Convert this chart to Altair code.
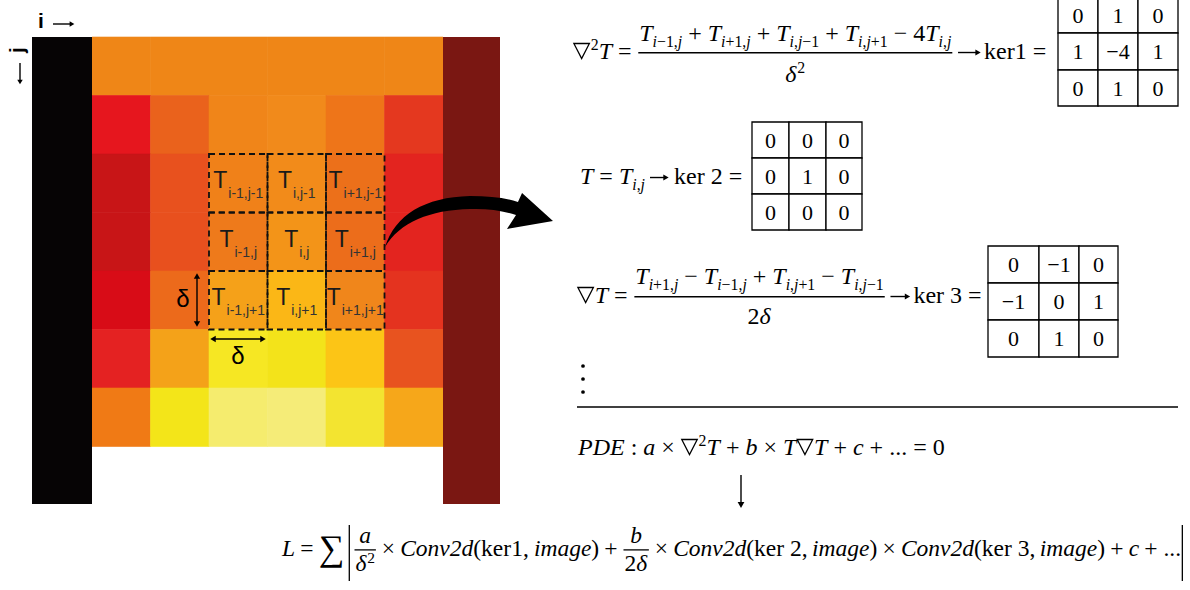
import altair as alt
import pandas as pd

W, H = 1190, 590

# ---------------- data ----------------
heat_colors = [
    ["#EF8617", "#EF8617", "#EF8617", "#EF8617", "#EF8617", "#EF8617"],
    ["#E6161E", "#EA621C", "#F08519", "#F18A1B", "#EE7519", "#E4381F"],
    ["#C81517", "#E8511E", "#F08119", "#F28B1A", "#EC701A", "#E3241F"],
    ["#C81517", "#E8501E", "#EE7A1B", "#F39418", "#EC6D1B", "#E3241F"],
    ["#D80C17", "#EC6A1B", "#F5A119", "#FBB716", "#F0861B", "#E4331F"],
    ["#E42222", "#F4A219", "#F6E723", "#F3E31A", "#FCC516", "#E8531F"],
    ["#F07A15", "#F3E519", "#F5EC6E", "#F5EC78", "#F3E430", "#F6A71A"],
]
wall_colors = ["#060405", "#7A1712"]
stencil_subs = [
    ["i-1,j-1", "i,j-1", "i+1,j-1"],
    ["i-1,j", "i,j", "i+1,j"],
    ["i-1,j+1", "i,j+1", "i+1,j+1"],
]
ker1 = [["0", "1", "0"], ["1", "−4", "1"], ["0", "1", "0"]]
ker2 = [["0", "0", "0"], ["0", "1", "0"], ["0", "0", "0"]]
ker3 = [["0", "−1", "0"], ["−1", "0", "1"], ["0", "1", "0"]]

# ---------------- layout constants ----------------
GX0, GY0, CELL = 92.0, 37.0, 58.5
SERIF = "Liberation Serif"
SANS = "Liberation Sans"

XS = alt.Scale(domain=[0, W], nice=False, zero=False)
YS = alt.Scale(domain=[0, H], nice=False, zero=False, reverse=True)


def X(f):
    return alt.X(f, type="quantitative", scale=XS, axis=None)


def Y(f):
    return alt.Y(f, type="quantitative", scale=YS, axis=None)


# ---------------- heat map ----------------
heat = pd.DataFrame([
    dict(x=GX0 + c * CELL, x2=GX0 + (c + 1) * CELL, y=GY0 + r * CELL, y2=GY0 + (r + 1) * CELL, c=col)
    for r, row in enumerate(heat_colors) for c, col in enumerate(row)
])
walls = pd.DataFrame([
    dict(x=32, x2=92, y=37, y2=504, c=wall_colors[0]),
    dict(x=443, x2=500, y=37, y2=504, c=wall_colors[1]),
])
boxes = pd.DataFrame([
    dict(x=GX0 + (2 + c) * CELL, x2=GX0 + (3 + c) * CELL, y=GY0 + (2 + r) * CELL, y2=GY0 + (3 + r) * CELL)
    for r in range(3) for c in range(3)
])

ARIAL = {"T": 611, "i": 222, "j": 222, "-": 333, "+": 584, "1": 556, ",": 278}
sans_txt = []
for r in range(3):
    for c in range(3):
        sub = stencil_subs[r][c]
        wT = 0.611 * 23
        wS = sum(ARIAL[ch] for ch in sub) * 14 / 1000
        cx = GX0 + (2 + c + 0.5) * CELL
        top = GY0 + (2 + r) * CELL
        x0 = cx - (wT + 1 + wS) / 2
        sans_txt.append(dict(x=x0, y=top + 34, text="T", size=23, color="#1a1a1a"))
        sans_txt.append(dict(x=x0 + wT + 1, y=top + 44, text=sub, size=14, color="#333333"))
sans_df = pd.DataFrame(sans_txt)

delta_df = pd.DataFrame([
    dict(x=183, y=307, text="δ", size=24),
    dict(x=238, y=364, text="δ", size=24),
])

# arrows (shafts + heads)
shafts = [
    dict(x=197, x2=197, y=277, y2=323),
    dict(x=214, x2=262, y=339, y2=339),
    dict(x=53, x2=71, y=24, y2=24),
    dict(x=20, x2=20, y=63, y2=81),
    dict(x=741, x2=741, y=475, y2=504),
]
heads = [
    dict(x=197, y=276, shape="triangle-up", size=40),
    dict(x=197, y=324, shape="triangle-down", size=40),
    dict(x=213, y=339, shape="triangle-left", size=40),
    dict(x=263, y=339, shape="triangle-right", size=40),
    dict(x=72, y=24, shape="triangle-right", size=30),
    dict(x=20, y=82, shape="triangle-down", size=30),
    dict(x=741, y=505, shape="triangle-down", size=45),
]
ARROW = ("M -0.988 0.306 C -0.871 -0.071 -0.518 -0.282 0.012 -0.294 "
         "Q 0.365 -0.294 0.576 -0.224 L 0.624 -0.329 L 0.988 0 L 0.447 0.094 "
         "L 0.553 -0.071 Q 0.306 -0.153 0.012 -0.141 C -0.459 -0.129 -0.812 0.012 -0.988 0.306 Z")
NABLA = "M -0.95 -0.9 L 0.95 -0.9 L 0 0.95 Z"
curved = pd.DataFrame([dict(x=469, y=221)])

# ---------------- equation layout engine ----------------
REG = {"(": 333, ")": 333, "+": 564, ",": 250, ".": 250, ":": 278, "=": 564,
       "×": 564, "−": 564, "k": 500, "e": 444, "r": 333, "δ": 500, "∑": 713}
ITA = {"T": 556, "P": 611, "D": 722, "E": 611, "L": 556, "C": 667, "a": 500, "b": 500, "c": 444,
       "d": 500, "e": 444, "g": 500, "i": 278, "j": 278, "m": 722, "n": 500, "o": 500, "v": 444,
       "δ": 500, ",": 250}
for d in "0123456789":
    REG[d] = 500
    ITA[d] = 500

KIND = {"n": (1.0, 0.0), "sub": (0.66, 0.26), "sup": (0.66, -0.36)}
texts = []
fbars = []
vbars = []
nablas = []


def wid(s, st, size, sp):
    tab = ITA if st == "I" else REG
    return sum((sp * 1000 if ch == " " else tab.get(ch, 500)) for ch in s) * size / 1000


def runs(s, st):
    if st != "M":
        return [(s, st)]
    out = []
    for ch in s:
        k = "I" if ch.isalpha() else "R"
        if out and out[-1][1] == k:
            out[-1] = (out[-1][0] + ch, k)
        else:
            out.append((ch, k))
    return out


def place(tokens, x, base, F, noff, doff, sp=0.25, emit=True):
    for tok in tokens:
        kind = tok[0]
        if kind == "FRAC":
            wn = place(tok[1], 0, 0, F, noff, doff, sp, False)
            wd = place(tok[2], 0, 0, F, noff, doff, sp, False)
            fw = max(wn, wd) + 0.14 * F
            axis = base - 0.26 * F
            if emit:
                place(tok[1], x + (fw - wn) / 2, axis - noff * F, F, noff, doff, sp)
                place(tok[2], x + (fw - wd) / 2, axis + doff * F, F, noff, doff, sp)
                fbars.append(dict(x=x + 0.03 * F, x2=x + fw - 0.03 * F, y=axis, y2=axis))
            x += fw
        elif kind == "GAP":
            x += tok[1]
        elif kind == "VBAR":
            if emit:
                vbars.append(dict(x=x, x2=x, y=base - 31, y2=base + 25))
            x += 1.5
        elif kind == "ARROW":
            g0, ln, g1 = tok[1], tok[2], tok[3]
            if emit:
                ay = base - 0.27 * F
                shafts.append(dict(x=x + g0, x2=x + g0 + ln - 4, y=ay, y2=ay))
                heads.append(dict(x=x + g0 + ln - 3, y=ay, shape="triangle-right", size=38))
            x += g0 + ln + g1
        elif kind == "NABLA":
            if emit:
                nablas.append(dict(x=x + 0.36 * F, y=base - 0.34 * F, size=(0.68 * F) ** 2))
            x += 0.74 * F
        elif kind == "BIG":
            size = F * tok[2]
            if emit:
                texts.append(dict(x=x, y=base + tok[3] * F, text=tok[1], size=size, st="R"))
            x += wid(tok[1], "R", size, sp)
        else:
            s, st, k = tok
            sc, dy = KIND[k]
            size = F * sc
            for part, pst in runs(s, st):
                lead = len(part) - len(part.lstrip(" "))
                if emit and part.strip():
                    texts.append(dict(x=x + wid(" " * lead, pst, size, sp), y=base + dy * F,
                                      text=part.strip(), size=size, st=pst))
                x += wid(part, pst, size, sp)
    return x


num1 = [("T", "I", "n"), ("i−1,j", "M", "sub"), (" + ", "R", "n"), ("T", "I", "n"), ("i+1,j", "M", "sub"),
        (" + ", "R", "n"), ("T", "I", "n"), ("i,j−1", "M", "sub"), (" + ", "R", "n"), ("T", "I", "n"),
        ("i,j+1", "M", "sub"), (" − ", "R", "n"), ("4", "R", "n"), ("T", "I", "n"), ("i,j", "M", "sub")]
eq1 = [("NABLA",), ("2", "R", "sup"), ("T", "I", "n"), (" = ", "R", "n"),
       ("FRAC", num1, [("δ", "I", "n"), ("2", "R", "sup")]), ("ARROW", 5, 23, 3),
       ("ker1 =", "R", "n")]
eq2 = [("T", "I", "n"), (" = ", "R", "n"), ("T", "I", "n"), ("i,j", "M", "sub"), ("ARROW", 5, 19, 5),
       ("ker 2 =", "R", "n")]
num3 = [("T", "I", "n"), ("i+1,j", "M", "sub"), (" − ", "R", "n"), ("T", "I", "n"), ("i−1,j", "M", "sub"),
        (" + ", "R", "n"), ("T", "I", "n"), ("i,j+1", "M", "sub"), (" − ", "R", "n"), ("T", "I", "n"),
        ("i,j−1", "M", "sub")]
eq3 = [("NABLA",), ("T", "I", "n"), (" = ", "R", "n"),
       ("FRAC", num3, [("2", "R", "n"), ("δ", "I", "n")]), ("ARROW", 5, 20, 3), ("ker 3 =", "R", "n")]
pde = [("PDE", "I", "n"), (" : ", "R", "n"), ("a", "I", "n"), (" × ", "R", "n"), ("NABLA",),
       ("2", "R", "sup"), ("T", "I", "n"), (" + ", "R", "n"), ("b", "I", "n"), (" × ", "R", "n"),
       ("T", "I", "n"), ("NABLA",), ("T", "I", "n"), (" + ", "R", "n"), ("c", "I", "n"),
       (" + ... = 0", "R", "n")]
loss = [("L", "I", "n"), (" = ", "R", "n"), ("BIG", "∑", 1.53, 0.17), ("GAP", 5), ("VBAR",), ("GAP", 3),
        ("FRAC", [("a", "I", "n")], [("δ", "I", "n"), ("2", "R", "sup")]), (" × ", "R", "n"),
        ("Conv2d", "I", "n"), ("(ker1, ", "R", "n"), ("image", "I", "n"), (")", "R", "n"), (" + ", "R", "n"),
        ("FRAC", [("b", "I", "n")], [("2", "R", "n"), ("δ", "I", "n")]), (" × ", "R", "n"),
        ("Conv2d", "I", "n"), ("(ker 2, ", "R", "n"), ("image", "I", "n"), (")", "R", "n"), (" × ", "R", "n"),
        ("Conv2d", "I", "n"), ("(ker 3, ", "R", "n"), ("image", "I", "n"), (")", "R", "n"), (" + ", "R", "n"),
        ("c", "I", "n"), (" + ...", "R", "n"), ("GAP", 2), ("VBAR",)]

place(eq1, 573, 59, 24, 0.48, 1.2)
place(eq2, 580, 184, 24, 0.48, 1.2)
place(eq3, 577, 303, 24, 0.55, 1.15)
place(pde, 578, 455, 24, 0.5, 1.1)
place(loss, 282, 556, 23.5, 0.3, 0.9, sp=0.22)

# kernel tables
tables = [(ker1, [1058, 1098, 1138, 1178], [-3, 33, 70, 106]),
          (ker2, [752, 789, 826, 862], [122, 158, 194, 230]),
          (ker3, [988, 1039, 1079, 1118], [246, 283, 320, 357])]
cells, nums = [], []
for ker, xs, ys in tables:
    for r in range(3):
        for c in range(3):
            cells.append(dict(x=xs[c], x2=xs[c + 1], y=ys[r], y2=ys[r + 1]))
            nums.append(dict(x=(xs[c] + xs[c + 1]) / 2, y=(ys[r] + ys[r + 1]) / 2 + 7.5, text=ker[r][c]))

tdf = pd.DataFrame(texts)
rules = pd.DataFrame(fbars + vbars + [dict(x=577, x2=1178, y=407, y2=407)])
dots = pd.DataFrame([dict(x=583, y=366), dict(x=583, y=379), dict(x=583, y=392)])

# ---------------- layers ----------------
L = []
L.append(alt.Chart(heat).mark_rect(strokeWidth=0.6).encode(
    x=X("x"), x2="x2", y=Y("y"), y2="y2",
    color=alt.Color("c:N", scale=None), stroke=alt.Stroke("c:N", scale=None)))
L.append(alt.Chart(walls).mark_rect().encode(
    x=X("x"), x2="x2", y=Y("y"), y2="y2", color=alt.Color("c:N", scale=None)))
L.append(alt.Chart(boxes).mark_rect(filled=False, stroke="#111111", strokeWidth=1.8,
                                    strokeDash=[6, 4]).encode(x=X("x"), x2="x2", y=Y("y"), y2="y2"))
L.append(alt.Chart(sans_df).mark_text(font=SANS, align="left", baseline="alphabetic").encode(
    x=X("x"), y=Y("y"), text="text:N", size=alt.Size("size:Q", scale=None),
    color=alt.Color("color:N", scale=None)))
L.append(alt.Chart(delta_df).mark_text(font=SANS, align="center", baseline="alphabetic", color="black").encode(
    x=X("x"), y=Y("y"), text="text:N", size=alt.Size("size:Q", scale=None)))
L.append(alt.Chart(pd.DataFrame([dict(x=38, y=28, text="i")])).mark_text(
    font=SANS, fontWeight="bold", fontSize=21, align="left", baseline="alphabetic", color="black").encode(
    x=X("x"), y=Y("y"), text="text:N"))
L.append(alt.Chart(pd.DataFrame([dict(x=18, y=50, text="j")])).mark_text(
    font=SANS, fontWeight="bold", fontSize=21, align="center", baseline="middle", angle=270,
    color="black").encode(x=X("x"), y=Y("y"), text="text:N"))
L.append(alt.Chart(pd.DataFrame(shafts)).mark_rule(color="black", strokeWidth=1.4).encode(
    x=X("x"), x2="x2", y=Y("y"), y2="y2"))
L.append(alt.Chart(pd.DataFrame(heads)).mark_point(filled=True, color="black", opacity=1).encode(
    x=X("x"), y=Y("y"), shape=alt.Shape("shape:N", scale=None), size=alt.Size("size:Q", scale=None)))
L.append(alt.Chart(curved).mark_point(shape=ARROW, size=28900, filled=True, color="black",
                                      opacity=1, strokeWidth=0).encode(x=X("x"), y=Y("y")))
L.append(alt.Chart(pd.DataFrame(nablas)).mark_point(shape=NABLA, filled=False, color="black", opacity=1,
                                                    strokeWidth=1.3).encode(
    x=X("x"), y=Y("y"), size=alt.Size("size:Q", scale=None)))
for st, style in [("R", "normal"), ("I", "italic")]:
    L.append(alt.Chart(tdf[tdf.st == st]).mark_text(
        font=SERIF, fontStyle=style, align="left", baseline="alphabetic", color="black").encode(
        x=X("x"), y=Y("y"), text="text:N", size=alt.Size("size:Q", scale=None)))
L.append(alt.Chart(pd.DataFrame(cells)).mark_rect(fill="white", stroke="black", strokeWidth=1.3).encode(
    x=X("x"), x2="x2", y=Y("y"), y2="y2"))
L.append(alt.Chart(pd.DataFrame(nums)).mark_text(
    font=SERIF, fontSize=22, align="center", baseline="alphabetic", color="black").encode(
    x=X("x"), y=Y("y"), text="text:N"))
L.append(alt.Chart(rules).mark_rule(color="black", strokeWidth=1.3).encode(
    x=X("x"), x2="x2", y=Y("y"), y2="y2"))
L.append(alt.Chart(dots).mark_circle(color="black", size=14, opacity=1).encode(x=X("x"), y=Y("y")))

chart = alt.layer(*L).properties(
    width=W, height=H, padding=0, autosize=alt.AutoSizeParams(type="none"), background="white"
).configure_view(stroke=None)

chart.save("out.html", embed_options={"renderer": "svg", "actions": False})
